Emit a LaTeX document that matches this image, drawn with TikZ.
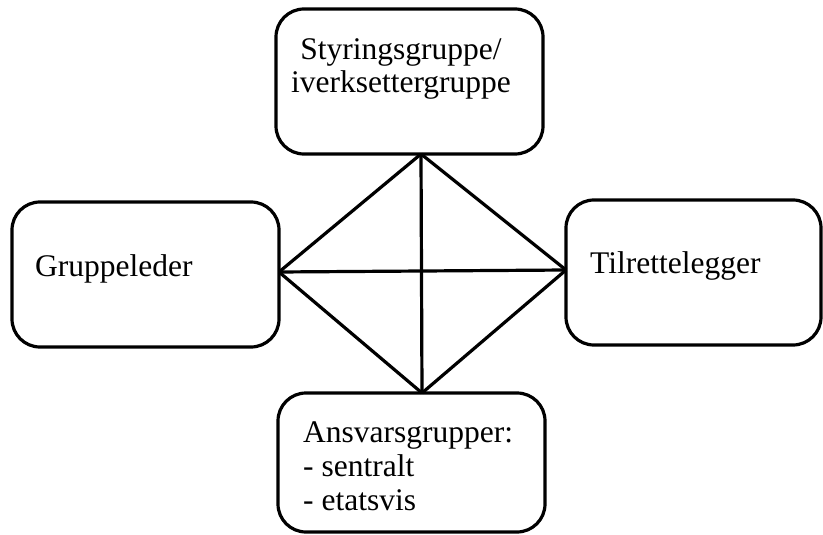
\documentclass[tikz,border=0pt]{standalone}
\usepackage{fontspec}
\setmainfont{Liberation Serif}
\begin{document}
\begin{tikzpicture}[x=1pt,y=-1pt,
  box/.style={draw=black,line width=3.2pt,rounded corners=28pt},
  lbl/.style={inner sep=0pt,font=\fontsize{31.5}{34}\selectfont},
  link/.style={draw=black,line width=3.2pt}]
  \useasboundingbox (0,0) rectangle (823,535);

  % four rounded boxes
  \draw[box] (276,9) rectangle (543,154);
  \draw[box] (12,202) rectangle (279,347);
  \draw[box] (566,200) rectangle (821,345);
  \draw[box] (278,393) rectangle (545,532);

  % texts (multi-line nodes sit on the baseline of their last line)
  \node[lbl,anchor=base,align=center] (styr) at (401,93) {Styringsgruppe/\\iverksettergruppe};
  \node[lbl,anchor=base west] (grp) at (35,276) {Gruppeleder};
  \node[lbl,anchor=base west] (tilr) at (590,273) {Tilrettelegger};
  \node[lbl,anchor=base west,align=left] (ansv) at (303,510) {Ansvarsgrupper:\\- sentralt\\- etatsvis};

  % meeting points on the box borders
  \coordinate (T) at (421,154);
  \coordinate (L) at (279,272);
  \coordinate (R) at (566,270);
  \coordinate (B) at (422,393);

  % every pair of boxes is connected
  \draw[link] (T) -- (L);
  \draw[link] (T) -- (R);
  \draw[link] (T) -- (B);
  \draw[link] (L) -- (R);
  \draw[link] (L) -- (B);
  \draw[link] (R) -- (B);
\end{tikzpicture}
\end{document}
